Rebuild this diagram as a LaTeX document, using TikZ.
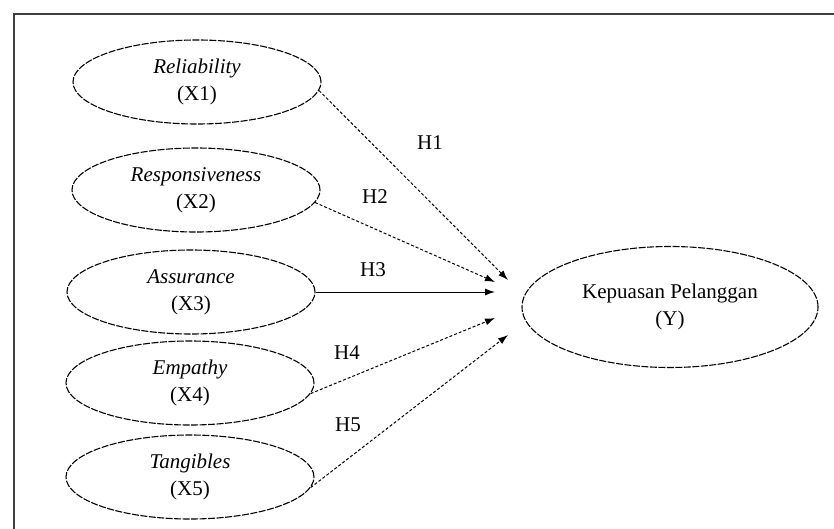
\documentclass[tikz,border=0pt]{standalone}
\usepackage{fontspec}
\setmainfont{Liberation Serif}
\usetikzlibrary{shapes, arrows.meta, positioning, calc}

\begin{document}
\begin{tikzpicture}[x=1pt, y=-1pt,
    every node/.style={font=\fontsize{21}{27}\selectfont},
    construct/.style={draw, ellipse, line width=1.1pt, dash pattern=on 7pt off 1.5pt,
        minimum width=248pt, minimum height=84pt, inner sep=0pt, align=center},
    link/.style={line width=1pt, -{Latex[length=10pt, width=7pt]}},
    hypo/.style={inner sep=0pt}]
    \useasboundingbox[fill=white] (0,0) rectangle (834,529);
    % frame, only the top and left sides show
    \draw[line width=1.8pt, black!75] (14,535) -- (14,14) -- (840,14);

    \node[construct] (x1) at (197,82)  {\textit{Reliability}\\(X1)};
    \node[construct] (x2) at (196,190) {\textit{Responsiveness}\\(X2)};
    \node[construct] (x3) at (191,292) {\textit{Assurance}\\(X3)};
    \node[construct] (x4) at (190,383) {\textit{Empathy}\\(X4)};
    \node[construct] (x5) at (190,477) {\textit{Tangibles}\\(X5)};
    \node[construct, minimum width=296pt, minimum height=121pt] (y) at (670,307) {Kepuasan Pelanggan\\(Y)};

    % arrow tips meet left of Y
    \coordinate (t1) at (508,280);
    \coordinate (t2) at (495,282);
    \coordinate (t4) at (495,318);
    \coordinate (t5) at (508,335);

    \draw[link, densely dashed] (x1.-4) -- (t1);
    \draw[link, densely dashed] (x2.-6) -- (t2);
    \draw[link] (x3.east) -- (x3.east -| t2);
    \draw[link, densely dashed] (x4.-5) -- (t4);
    \draw[link, densely dashed] (x5.-5) -- (t5);

    \node[hypo] (h1) at (430,143) {H1};
    \node[hypo] (h2) at (375,197) {H2};
    \node[hypo] (h3) at (373,270) {H3};
    \node[hypo] (h4) at (347,353) {H4};
    \node[hypo] (h5) at (348,425) {H5};
\end{tikzpicture}
\end{document}
